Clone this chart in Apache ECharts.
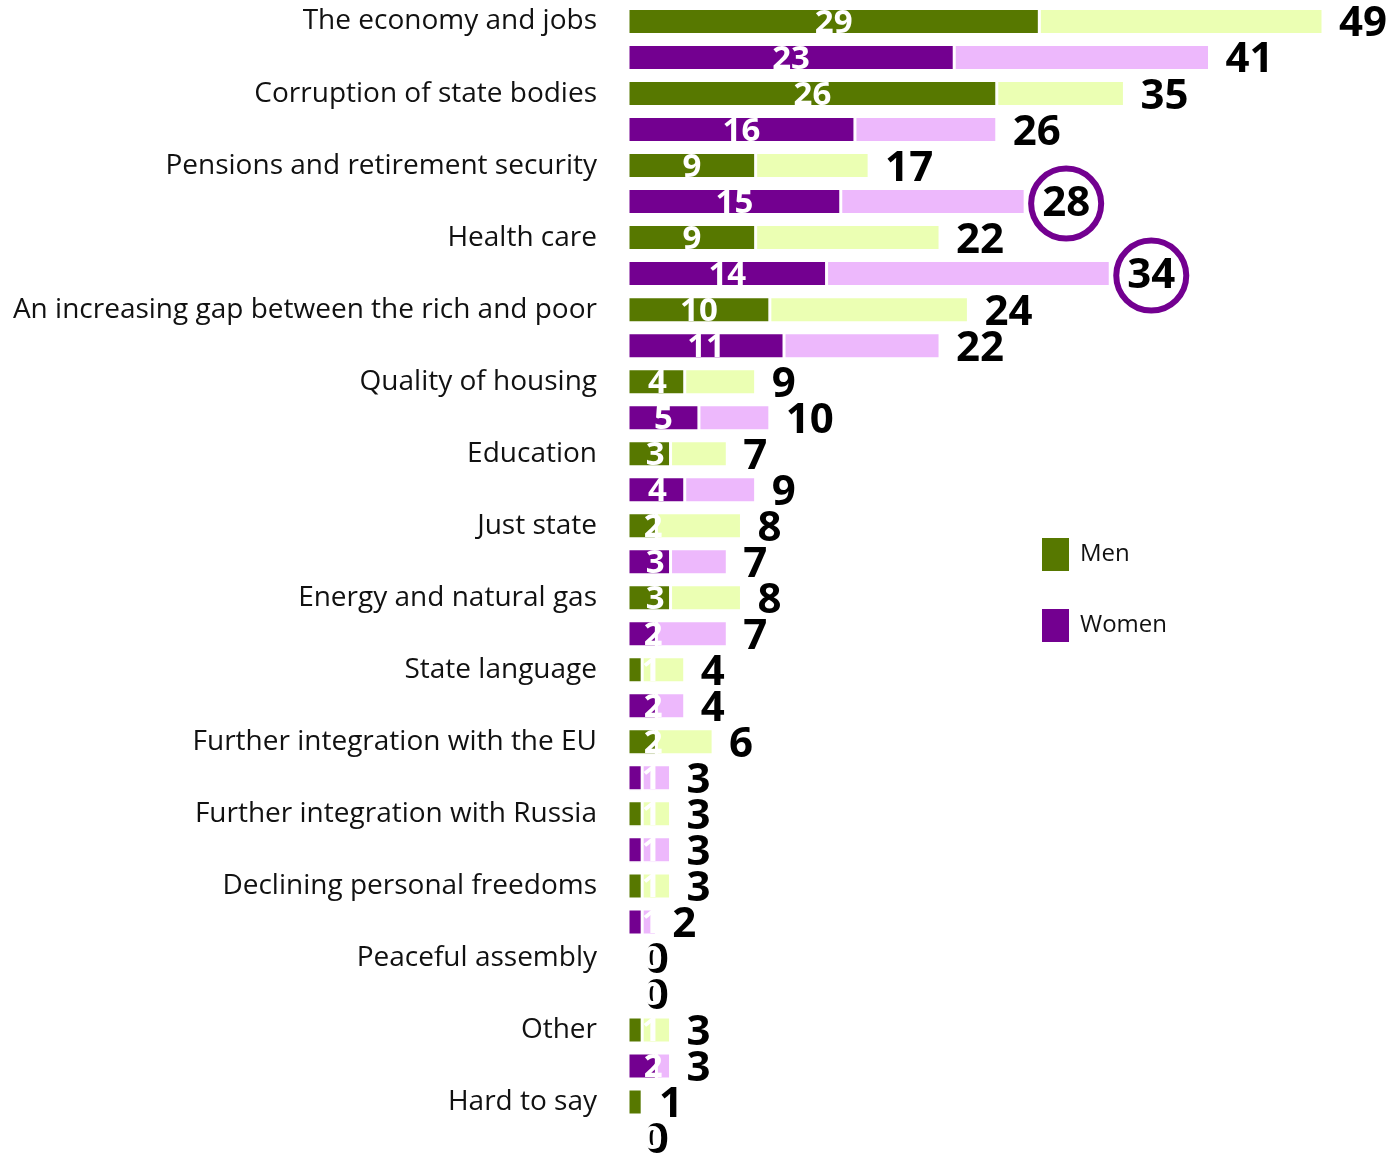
<!DOCTYPE html>
<html><head><meta charset="utf-8">
<script src="https://cdn.jsdelivr.net/npm/echarts@6/dist/echarts.min.js"></script>
<style>html,body{margin:0;padding:0;background:#fff}#c{width:1390px;height:1156px}</style>
</head><body><div id="c"></div>
<script>
const categories = [
  'The economy and jobs',
  'Corruption of state bodies',
  'Pensions and retirement security',
  'Health care',
  'An increasing gap between the rich and poor',
  'Quality of housing',
  'Education',
  'Just state',
  'Energy and natural gas',
  'State language',
  'Further integration with the EU',
  'Further integration with Russia',
  'Declining personal freedoms',
  'Peaceful assembly',
  'Other',
  'Hard to say'
];
const menFirst   = [29, 26, 9, 9, 10, 4, 3, 2, 3, 1, 2, 1, 1, 0, 1, 1];
const menTotal   = [49, 35, 17, 22, 24, 9, 7, 8, 8, 4, 6, 3, 3, 0, 3, 1];
const womenFirst = [23, 16, 15, 14, 11, 5, 4, 3, 2, 2, 1, 1, 1, 0, 2, 0];
const womenTotal = [41, 26, 28, 34, 22, 10, 9, 7, 7, 4, 3, 3, 2, 0, 3, 0];
const circledWomen = ['Pensions and retirement security', 'Health care'];
const seriesNames = ['Men', 'Women'];

const C = {
  menDark: '#577800', menLight: '#EBFFB3',
  womenDark: '#730090', womenLight: '#EDB8FC',
  ring: '#730090'
};
const FONT = 'Open Sans';

const rows = [];
categories.forEach(c => { rows.push(c); rows.push(c + ' (women)'); });

function firstItem(v) {
  const dx = v === 0 ? 25 : Math.max(0, 21 - 5 * v);
  return { value: v, label: { offset: [dx, 2] } };
}
function restItem(first, total, circled) {
  const it = { value: total - first };
  if (circled) {
    it.label = {
      distance: 6,
      offset: [0, 2],
      lineHeight: 42,
      padding: [14, 11, 14, 11],
      borderColor: C.ring,
      borderWidth: 6,
      borderRadius: 40
    };
  }
  return it;
}

const menFirstRow = rows.map((_, i) => i % 2 === 0 ? firstItem(menFirst[i >> 1]) : '-');
const menRestRow = rows.map((_, i) => i % 2 === 0 ? restItem(menFirst[i >> 1], menTotal[i >> 1], false) : '-');
const womenFirstRow = rows.map((_, i) => i % 2 === 1 ? firstItem(womenFirst[i >> 1]) : '-');
const womenRestRow = rows.map((_, i) => i % 2 === 1 ? restItem(womenFirst[i >> 1], womenTotal[i >> 1], circledWomen.includes(categories[i >> 1])) : '-');

const firstLabel = (arr) => ({
  show: true, position: 'inside', color: '#fff',
  fontFamily: FONT, fontWeight: 'bold', fontSize: 33,
  formatter: p => String(arr[p.dataIndex >> 1])
});
const totalLabel = (arr) => ({
  show: true, position: 'right', distance: 16, offset: [0, 3], color: '#000',
  fontFamily: FONT, fontWeight: 'bold', fontSize: 42,
  formatter: p => String(arr[p.dataIndex >> 1])
});
const common = { type: 'bar', stack: 'all', barWidth: 26, animation: false };
const border = { borderColor: '#fff', borderWidth: 1.5 };

const chart = echarts.init(document.getElementById('c'));
chart.setOption({
  backgroundColor: '#fff',
  animation: false,
  grid: { left: 628, top: 3.5, width: 695, height: 1155, containLabel: false },
  xAxis: { type: 'value', min: 0, max: 49, show: false },
  yAxis: {
    type: 'category', data: rows, inverse: true,
    axisLine: { show: false }, axisTick: { show: false }, splitLine: { show: false },
    axisLabel: {
      interval: 0, margin: 31, color: '#111', fontFamily: FONT, fontSize: 28,
      padding: [4, 0, 0, 0],
      formatter: v => v.endsWith(' (women)') ? '' : v
    }
  },
  legend: {
    data: seriesNames, orient: 'vertical', left: 1040, top: 536, padding: 0,
    itemWidth: 29, itemHeight: 35, itemGap: 34, icon: 'rect',
    selectedMode: false,
    textStyle: { fontFamily: FONT, fontSize: 24, color: '#111', padding: [0, 0, 0, 5] }
  },
  series: [
    Object.assign({}, common, { name: seriesNames[0], z: 3, data: menFirstRow,
      itemStyle: Object.assign({ color: C.menDark }, border), label: firstLabel(menFirst) }),
    Object.assign({}, common, { name: 'Men total', z: 2, data: menRestRow,
      itemStyle: Object.assign({ color: C.menLight }, border), label: totalLabel(menTotal) }),
    Object.assign({}, common, { name: seriesNames[1], z: 3, data: womenFirstRow,
      itemStyle: Object.assign({ color: C.womenDark }, border), label: firstLabel(womenFirst) }),
    Object.assign({}, common, { name: 'Women total', z: 2, data: womenRestRow,
      itemStyle: Object.assign({ color: C.womenLight }, border), label: totalLabel(womenTotal) })
  ]
});
</script>
</body></html>
